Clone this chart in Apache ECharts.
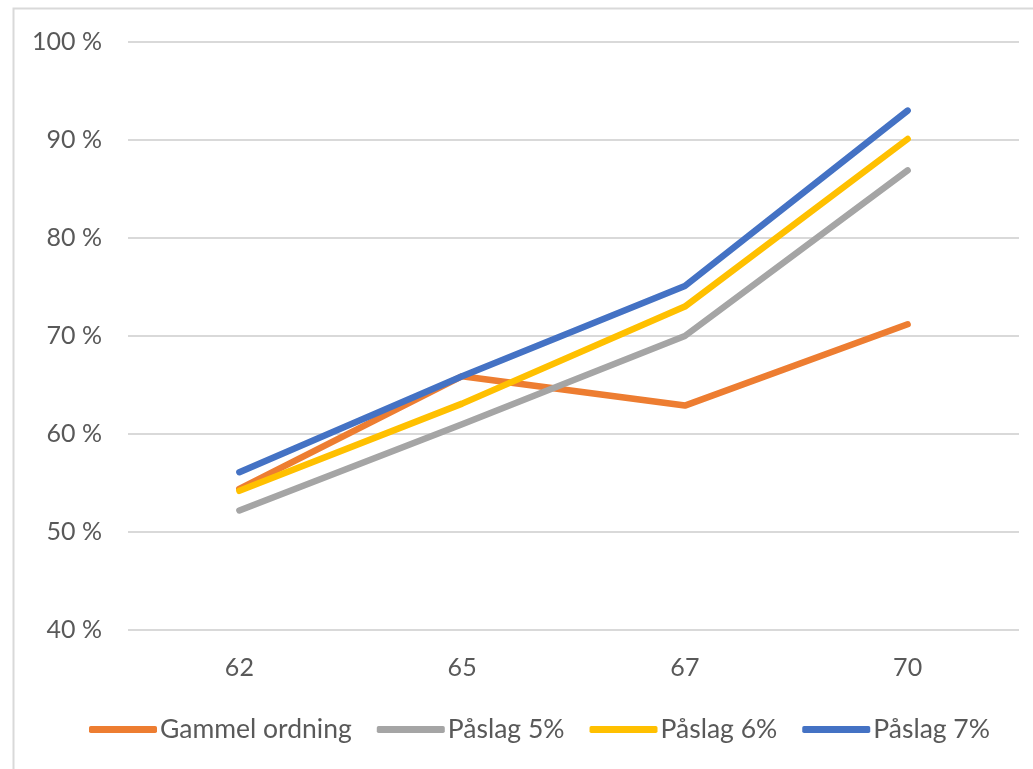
<!DOCTYPE html>
<html><head><meta charset="utf-8">
<script src="https://cdn.jsdelivr.net/npm/echarts@6/dist/echarts.min.js"></script>
<style>html,body{margin:0;padding:0;background:#fff}#c{width:1033px;height:769px}</style>
</head><body><div id="c"></div>
<script>
const categories = ['62', '65', '67', '70'];
const gammelOrdning = [54.4, 65.9, 62.9, 71.2];
const paslag5 = [52.2, 61.0, 70.0, 86.9];
const paslag6 = [54.2, 63.1, 73.0, 90.1];
const paslag7 = [56.1, 65.9, 75.1, 93.0];
const seriesNames = ['Gammel ordning', 'Påslag 5%', 'Påslag 6%', 'Påslag 7%'];
const colors = ['#ED7D31', '#A5A5A5', '#FFC000', '#4472C4'];
const seriesData = [gammelOrdning, paslag5, paslag6, paslag7];

const font = 'Lato, "Noto Sans", sans-serif';
const chart = echarts.init(document.getElementById('c'));
chart.setOption({
  animation: false,
  graphic: [{
    type: 'rect', shape: {x: 13.5, y: 8.5, width: 1040, height: 800},
    style: {fill: 'none', stroke: '#D9D9D9', lineWidth: 2}, silent: true
  }],
  grid: {left: 128, right: 14, top: 42, bottom: 139},
  legend: {
    top: 711, left: 84,
    itemWidth: 68, itemHeight: 7, itemGap: 25,
    icon: 'roundRect',
    textStyle: {fontSize: 26.5, color: '#595959', fontFamily: font, padding: [0, 0, 0, -2]},
    data: seriesNames
  },
  xAxis: {
    type: 'category', data: categories, boundaryGap: true,
    axisLine: {show: false}, axisTick: {show: false},
    axisLabel: {fontSize: 25, color: '#595959', fontFamily: font, margin: 25}
  },
  yAxis: {
    type: 'value', min: 40, max: 100, interval: 10,
    axisLabel: {formatter: '{value} %', fontSize: 25, color: '#595959', fontFamily: font, margin: 26},
    splitLine: {lineStyle: {color: '#D9D9D9', width: 2}}
  },
  series: seriesData.map((d, i) => ({
    name: seriesNames[i], type: 'line', data: d,
    symbol: 'none', color: colors[i],
    lineStyle: {width: 6.5, color: colors[i], cap: 'round', join: 'round'},
    itemStyle: {color: colors[i]}
  }))
});
</script></body></html>
